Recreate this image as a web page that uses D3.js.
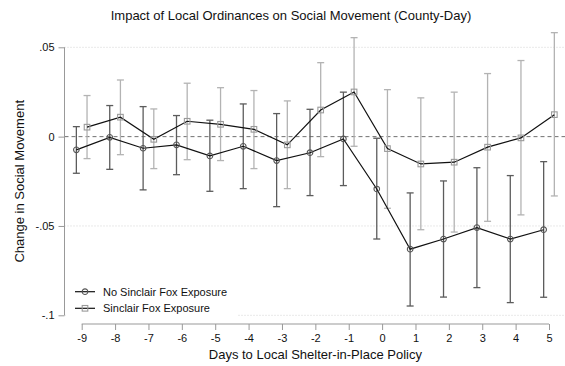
<!DOCTYPE html>
<html>
<head>
<meta charset="utf-8">
<script src="https://cdn.jsdelivr.net/npm/d3@7"></script>
<style>
  html, body { margin: 0; padding: 0; background: #fff; }
  svg { display: block; font-family: "Liberation Sans", Arial, Helvetica, sans-serif; }
</style>
</head>
<body>
<svg id="chart" width="565" height="366"></svg>
<script>
// Event-time days relative to the local shelter-in-place order
const days = [-9, -8, -7, -6, -5, -4, -3, -2, -1, 0, 1, 2, 3, 4, 5];

// Counties with no Sinclair / Fox exposure: point estimates and 95% CI
const noSinclair = [-0.0074, -0.0004, -0.0065, -0.0046, -0.0108, -0.0054, -0.0134, -0.0090, -0.0013,
                    -0.0293, -0.0630, -0.0573, -0.0509, -0.0573, -0.0521];
const noSinclairLo = [-0.0205, -0.0183, -0.0298, -0.0213, -0.0306, -0.0291, -0.0392, -0.0330, -0.0274,
                      -0.0573, -0.0948, -0.0898, -0.0845, -0.0929, -0.0899];
const noSinclairHi = [0.0056, 0.0174, 0.0168, 0.0118, 0.0092, 0.0183, 0.0129, 0.0153, 0.0249,
                      -0.0009, -0.0315, -0.0248, -0.0174, -0.0218, -0.0140];

// Counties with Sinclair / Fox exposure
const sinclair = [0.0053, 0.0109, -0.0015, 0.0086, 0.0069, 0.0041, -0.0046, 0.0149, 0.0250,
                  -0.0067, -0.0153, -0.0143, -0.0059, -0.0007, 0.0123];
const sinclairLo = [-0.0123, -0.0101, -0.0179, -0.0129, -0.0134, -0.0179, -0.0291, -0.0112, -0.0054,
                    -0.0401, -0.0521, -0.0534, -0.0474, -0.0438, -0.0332];
const sinclairHi = [0.0230, 0.0317, 0.0155, 0.0299, 0.0274, 0.0258, 0.0200, 0.0414, 0.0554,
                    0.0263, 0.0217, 0.0249, 0.0353, 0.0426, 0.0582];

const yTicks = [0.05, 0, -0.05, -0.1];
const yTickLabels = [".05", "0", "-.05", "-.1"];
const seriesNames = ["No Sinclair Fox Exposure", "Sinclair Fox Exposure"];

const svg = d3.select("#chart");

const x = d3.scaleLinear().domain([-9, 5]).range([81.7, 549]);
const y = d3.scaleLinear().domain([-0.1, 0.05]).range([315.3, 47.3]);
const plotLeft = 64.5, plotRight = 565;
const offset = 0.16; // horizontal dodge between the two series

// Gridlines (dotted) and zero reference line (dashed)
svg.append("g").selectAll("line")
  .data(yTicks.filter(d => d !== 0))
  .join("line")
  .attr("x1", plotLeft).attr("x2", plotRight)
  .attr("y1", d => y(d)).attr("y2", d => y(d))
  .attr("stroke", "#c8c8c8").attr("stroke-width", 0.8)
  .attr("stroke-dasharray", "1,2");

svg.append("line")
  .attr("x1", plotLeft).attr("x2", plotRight)
  .attr("y1", y(0)).attr("y2", y(0))
  .attr("stroke", "#707070").attr("stroke-width", 1)
  .attr("stroke-dasharray", "4,3");

// Axes
const yAxis = d3.axisLeft(y).tickValues(yTicks)
  .tickFormat((d, i) => yTickLabels[i]).tickSize(6).tickPadding(4);
const gy = svg.append("g").attr("transform", `translate(${plotLeft},0)`).call(yAxis);
gy.select(".domain").attr("stroke", "#999").attr("d", `M-0,${y(0.05)}V${y(-0.1)}`);
gy.selectAll(".tick line").attr("stroke", "#999");
gy.selectAll(".tick text").attr("font-size", 11).attr("fill", "#111")
  .attr("font-family", "Liberation Sans, Arial, sans-serif");

const xAxisY = 324;
const xAxis = d3.axisBottom(x).tickValues(days).tickFormat(d => String(d)).tickSize(6).tickPadding(4);
const gx = svg.append("g").attr("transform", `translate(0,${xAxisY})`).call(xAxis);
gx.select(".domain").attr("stroke", "#999").attr("d", `M${x(-9)},0H${x(5)}`);
gx.selectAll(".tick line").attr("stroke", "#999");
gx.selectAll(".tick text").attr("font-size", 11).attr("fill", "#111")
  .attr("font-family", "Liberation Sans, Arial, sans-serif");

// Titles
svg.append("text").attr("x", 291).attr("y", 20).attr("text-anchor", "middle")
  .attr("font-size", 13).attr("fill", "#111")
  .text("Impact of Local Ordinances on Social Movement (County-Day)");

svg.append("text").attr("x", (x(-9) + x(5)) / 2).attr("y", 359).attr("text-anchor", "middle")
  .attr("font-size", 13).attr("fill", "#111")
  .text("Days to Local Shelter-in-Place Policy");

svg.append("text")
  .attr("transform", `translate(24,${(y(0.05) + y(-0.1)) / 2}) rotate(-90)`)
  .attr("text-anchor", "middle").attr("font-size", 13).attr("fill", "#111")
  .text("Change in Social Movement");

// Series definitions
const series = [
  { name: seriesNames[0], est: noSinclair, lo: noSinclairLo, hi: noSinclairHi,
    dx: -offset, ci: "#5c5c5c", mk: "#555", shape: "circle" },
  { name: seriesNames[1], est: sinclair, lo: sinclairLo, hi: sinclairHi,
    dx: offset, ci: "#b3b3b3", mk: "#9a9a9a", shape: "square" }
];

const capW = 3.5;
const line = d3.line().x(d => x(d.day)).y(d => y(d.v));

function drawMarker(g, shape, color) {
  if (shape === "circle") {
    g.append("circle").attr("r", 2.8).attr("fill", "none")
      .attr("stroke", color).attr("stroke-width", 1.1);
  } else {
    g.append("rect").attr("x", -2.8).attr("y", -2.8).attr("width", 5.6).attr("height", 5.6)
      .attr("fill", "none").attr("stroke", color).attr("stroke-width", 1.1);
  }
}

series.forEach(s => {
  const pts = days.map((d, i) => ({ day: d + s.dx, v: s.est[i], lo: s.lo[i], hi: s.hi[i] }));
  const g = svg.append("g");

  // Confidence intervals with caps
  const ci = g.append("g").attr("stroke", s.ci).attr("stroke-width", 1.3);
  ci.selectAll("line.v").data(pts).join("line").attr("class", "v")
    .attr("x1", d => x(d.day)).attr("x2", d => x(d.day))
    .attr("y1", d => y(d.lo)).attr("y2", d => y(d.hi));
  ci.selectAll("line.t").data(pts).join("line").attr("class", "t")
    .attr("x1", d => x(d.day) - capW).attr("x2", d => x(d.day) + capW)
    .attr("y1", d => y(d.hi)).attr("y2", d => y(d.hi));
  ci.selectAll("line.b").data(pts).join("line").attr("class", "b")
    .attr("x1", d => x(d.day) - capW).attr("x2", d => x(d.day) + capW)
    .attr("y1", d => y(d.lo)).attr("y2", d => y(d.lo));
  s.pts = pts;
});

series.forEach(s => {
  svg.append("path").datum(s.pts).attr("d", line)
    .attr("fill", "none").attr("stroke", "#111").attr("stroke-width", 1.2);
  svg.append("g").selectAll("g").data(s.pts).join("g")
    .attr("transform", d => `translate(${x(d.day)},${y(d.v)})`)
    .each(function () { drawMarker(d3.select(this), s.shape, s.mk); });
});

// Legend inside the plot area
const legend = svg.append("g").attr("transform", "translate(66,280)");
legend.append("rect").attr("x", 0).attr("y", 0).attr("width", 172).attr("height", 38).attr("fill", "#fff");
series.forEach((s, i) => {
  const row = legend.append("g").attr("transform", `translate(0,${11.7 + i * 16.6})`);
  row.append("line").attr("x1", 9).attr("x2", 29).attr("y1", 0).attr("y2", 0)
    .attr("stroke", "#111").attr("stroke-width", 1.2);
  const m = row.append("g").attr("transform", "translate(19,0)");
  drawMarker(m, s.shape, s.mk);
  row.append("text").attr("x", 37).attr("y", 4).attr("font-size", 11).attr("fill", "#111")
    .text(s.name);
});
</script>
</body>
</html>
